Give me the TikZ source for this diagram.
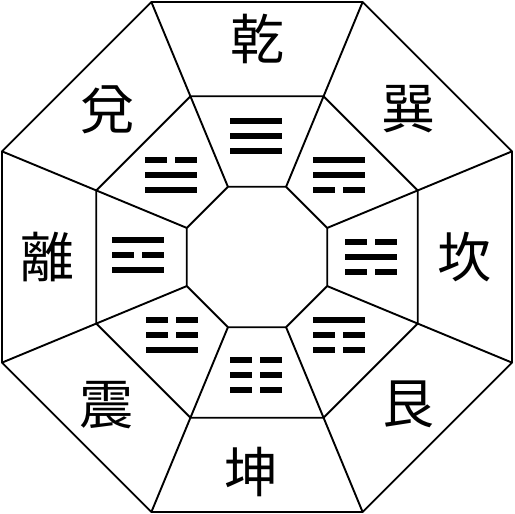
\documentclass[tikz,border=0pt]{standalone}
\usepackage{fontspec}
\newfontfamily\cjk{Noto Sans CJK JP}
\usepackage{tikz}

% one trigram: position, then the three lines from top to bottom (1 solid, 0 broken)
\newcommand{\gua}[4]{%
	\begin{scope}[shift={#1}]
		\foreach \b [count=\i from -1] in {#2,#3,#4} {
			\ifnum\b=1
				\fill (-26, \i*15-3.25) rectangle ++(52, 6.5);
			\else
				\fill (-26, \i*15-3.25) rectangle ++(22, 6.5);
				\fill (4, \i*15-3.25) rectangle ++(22, 6.5);
			\fi
		}
	\end{scope}%
}

\begin{document}
\begin{tikzpicture}[x=1pt, y=-1pt, edge/.style={line width=1.9pt, line join=miter}, gualabel/.style={font=\cjk\fontsize{54}{54}\selectfont, inner sep=0pt}]
	\useasboundingbox (0, 0) rectangle (515, 514);

	\begin{scope}[shift={(257, 257)}]
		\foreach \r in {276, 174, 76}
			\draw[edge] (22.5:\r) \foreach \a in {67.5, 112.5, ..., 337.5} { -- (\a:\r) } -- cycle;
		\foreach \a in {22.5, 67.5, ..., 337.5}
			\draw[edge] (\a:76) -- (\a:276);
	\end{scope}

	\gua{(256, 136)}{1}{1}{1}
	\gua{(339, 175)}{1}{1}{0}
	\gua{(371, 257)}{0}{1}{0}
	\gua{(339, 335)}{1}{0}{0}
	\gua{(256, 375)}{0}{0}{0}
	\gua{(172, 335)}{0}{0}{1}
	\gua{(138, 255)}{1}{0}{1}
	\gua{(171, 175)}{0}{1}{1}

	\node[gualabel] (qian) at (257, 39) {乾};
	\node[gualabel] (xun) at (408, 109) {巽};
	\node[gualabel] (kan) at (464, 257) {坎};
	\node[gualabel] (gen) at (408, 404) {艮};
	\node[gualabel] (kun) at (251, 472) {坤};
	\node[gualabel] (zhen) at (106, 405) {震};
	\node[gualabel] (li) at (47, 257) {離};
	\node[gualabel] (dui) at (107, 110) {兌};
\end{tikzpicture}
\end{document}
